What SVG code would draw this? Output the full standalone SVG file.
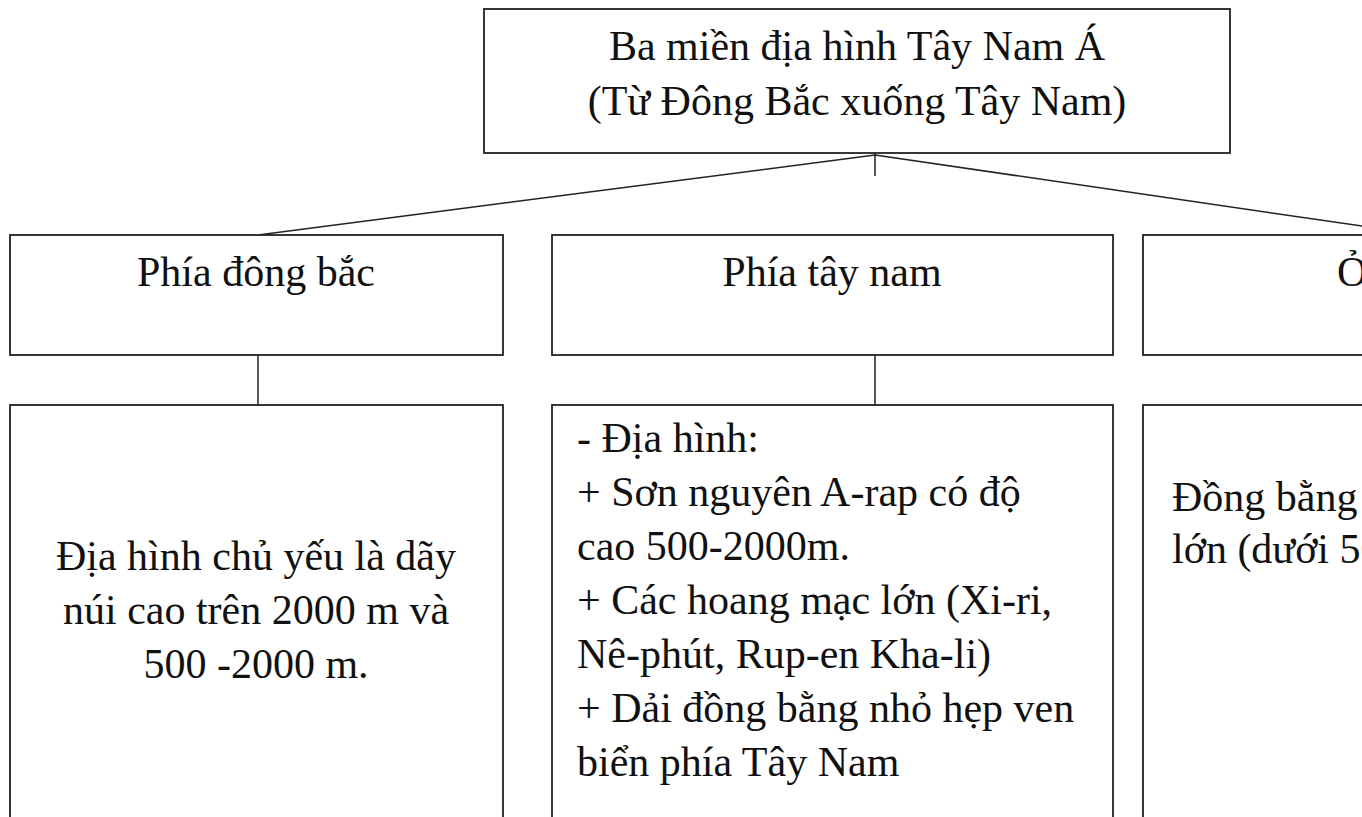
<svg xmlns="http://www.w3.org/2000/svg" width="1362" height="817" viewBox="0 0 1362 817">
<style>
.box{fill:#fff;stroke:#222;stroke-width:1.8}
.t{font-family:"Liberation Serif","Times New Roman",serif;font-size:42px;fill:#111}
.c{text-anchor:middle}
.ln{stroke:#222;stroke-width:1.5;fill:none}
</style>
<rect width="1362" height="817" fill="#fff"/>
<g id="connectors">
<line class="ln" x1="875" y1="155" x2="258" y2="235"/>
<line class="ln" x1="875" y1="155" x2="1423" y2="235"/>
<line class="ln" x1="875" y1="153" x2="875" y2="176"/>
<line class="ln" x1="258" y1="355" x2="258" y2="405"/>
<line class="ln" x1="875" y1="355" x2="875" y2="405"/>
</g>
<g id="root">
<rect class="box" x="484" y="9" width="746" height="144"/>
<text class="t c" x="857" y="60">Ba miền địa hình Tây Nam Á</text>
<text class="t c" x="857" y="115">(Từ Đông Bắc xuống Tây Nam)</text>
</g>
<g id="ne">
<rect class="box" x="10" y="235" width="493" height="120"/>
<text class="t c" x="256" y="286">Phía đông bắc</text>
</g>
<g id="sw">
<rect class="box" x="552" y="235" width="561" height="120"/>
<text class="t c" x="832" y="286">Phía tây nam</text>
</g>
<g id="mid">
<rect class="box" x="1143" y="235" width="561" height="120"/>
<text class="t" x="1337" y="286">Ở</text>
</g>
<g id="ne-detail">
<rect class="box" x="10" y="405" width="493" height="430"/>
<text class="t c" x="256" y="570">Địa hình chủ yếu là dãy</text>
<text class="t c" x="256" y="624">núi cao trên 2000 m và</text>
<text class="t c" x="256" y="678">500 -2000 m.</text>
</g>
<g id="sw-detail">
<rect class="box" x="552" y="405" width="561" height="430"/>
<text class="t" x="577" y="452">- Địa hình:</text>
<text class="t" x="577" y="506">+ Sơn nguyên A-rap có độ</text>
<text class="t" x="577" y="560">cao 500-2000m.</text>
<text class="t" x="577" y="614">+ Các hoang mạc lớn (Xi-ri,</text>
<text class="t" x="577" y="668">Nê-phút, Rup-en Kha-li)</text>
<text class="t" x="577" y="722">+ Dải đồng bằng nhỏ hẹp ven</text>
<text class="t" x="577" y="776">biển phía Tây Nam</text>
</g>
<g id="mid-detail">
<rect class="box" x="1143" y="405" width="561" height="430"/>
<text class="t" x="1172" y="511">Đồng bằng</text>
<text class="t" x="1172" y="563">lớn (dưới 50</text>
</g>
</svg>
